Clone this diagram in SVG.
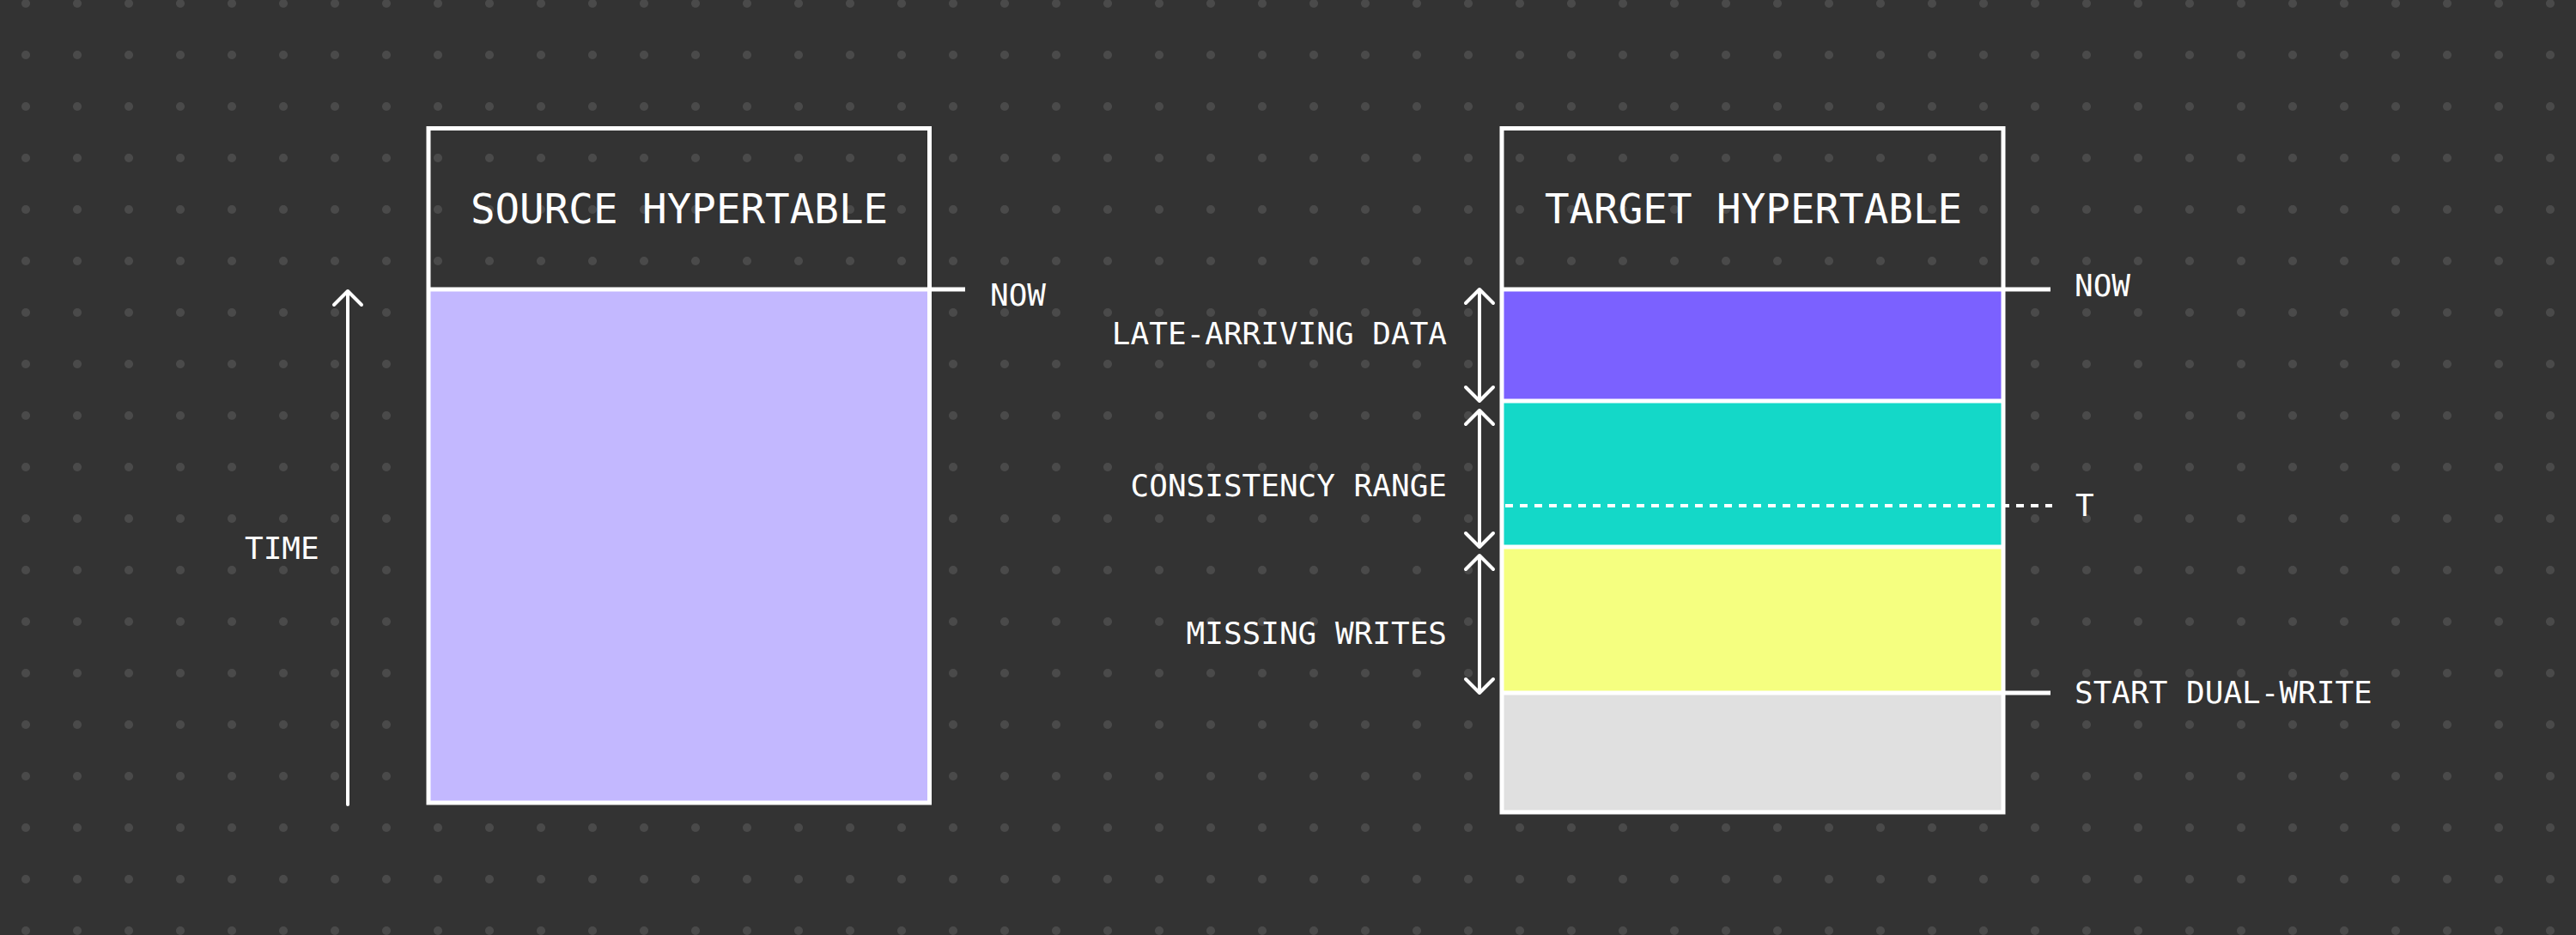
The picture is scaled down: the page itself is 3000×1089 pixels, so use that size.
<svg xmlns="http://www.w3.org/2000/svg" width="3000" height="1089" viewBox="0 0 3000 1089">
  <defs>
    <pattern id="dots" patternUnits="userSpaceOnUse" x="0" y="34" width="60" height="60">
      <circle cx="30" cy="30" r="5" fill="#4a4a4a"/>
    </pattern>
    <style>
      .lbl { font-family: "DejaVu Sans Mono", "Liberation Mono", monospace; font-size: 36px; fill: #ffffff; }
      .title { font-family: "DejaVu Sans Mono", "Liberation Mono", monospace; font-size: 47.5px; fill: #ffffff; text-anchor: middle; }
      .ln { stroke: #ffffff; stroke-width: 5; fill: none; }
      .arr { stroke: #ffffff; stroke-width: 4; fill: none; stroke-linecap: round; stroke-linejoin: round; }
    </style>
  </defs>
  <rect width="3000" height="1089" fill="#333333"/>
  <rect width="3000" height="1089" fill="url(#dots)"/>

  <g id="source-hypertable">
    <rect x="499" y="337" width="583.5" height="598" fill="#c3b8ff"/>
    <rect x="499" y="149.5" width="583.5" height="785.5" class="ln"/>
    <line x1="499" y1="337" x2="1082.5" y2="337" class="ln"/>
    <text x="791" y="260" class="title">SOURCE HYPERTABLE</text>
  </g>

  <g id="target-hypertable">
    <rect x="1749" y="337" width="584" height="130" fill="#7b61ff"/>
    <rect x="1749" y="467" width="584" height="170" fill="#14d8c8"/>
    <rect x="1749" y="637" width="584" height="170" fill="#f5ff80"/>
    <rect x="1749" y="807" width="584" height="139" fill="#e0e0e0"/>
    <rect x="1749" y="149.5" width="584" height="796.5" class="ln"/>
    <line x1="1749" y1="337" x2="2333" y2="337" class="ln" stroke-width="6"/>
    <line x1="1749" y1="467" x2="2333" y2="467" class="ln" stroke-width="6"/>
    <line x1="1749" y1="637" x2="2333" y2="637" class="ln" stroke-width="6"/>
    <line x1="1749" y1="807" x2="2333" y2="807" class="ln" stroke-width="6"/>
    <text x="2042" y="260" class="title">TARGET HYPERTABLE</text>
  </g>

  <g id="connectors">
    <line x1="1082" y1="337" x2="1124" y2="337" class="ln"/>
    <line x1="2333" y1="337" x2="2388" y2="337" class="ln"/>
    <line x1="2333" y1="807" x2="2388" y2="807" class="ln"/>
    <line x1="1753" y1="589" x2="2390" y2="589" stroke="#ffffff" stroke-width="4" stroke-dasharray="9 8"/>
    <!-- time arrow -->
    <line x1="405" y1="937" x2="405" y2="340" class="arr"/>
    <polyline points="389,355 405,339 421,355" class="arr"/>
    <!-- late-arriving -->
    <line x1="1723" y1="338" x2="1723" y2="466" class="arr"/>
    <polyline points="1707,353 1723,337 1739,353" class="arr"/>
    <polyline points="1707,451 1723,467 1739,451" class="arr"/>
    <!-- consistency -->
    <line x1="1723" y1="479" x2="1723" y2="636" class="arr"/>
    <polyline points="1707,494 1723,478 1739,494" class="arr"/>
    <polyline points="1707,621 1723,637 1739,621" class="arr"/>
    <!-- missing writes -->
    <line x1="1723" y1="648" x2="1723" y2="806" class="arr"/>
    <polyline points="1707,663 1723,647 1739,663" class="arr"/>
    <polyline points="1707,791 1723,807 1739,791" class="arr"/>
  </g>

  <g id="labels">
    <text x="1153" y="356" class="lbl">NOW</text>
    <text x="285" y="651" class="lbl">TIME</text>
    <text x="2416" y="345" class="lbl">NOW</text>
    <text x="2417" y="601" class="lbl">T</text>
    <text x="2416" y="819" class="lbl">START DUAL-WRITE</text>
    <text x="1685" y="401" class="lbl" text-anchor="end">LATE-ARRIVING DATA</text>
    <text x="1685" y="578" class="lbl" text-anchor="end">CONSISTENCY RANGE</text>
    <text x="1685" y="750" class="lbl" text-anchor="end">MISSING WRITES</text>
  </g>
</svg>
